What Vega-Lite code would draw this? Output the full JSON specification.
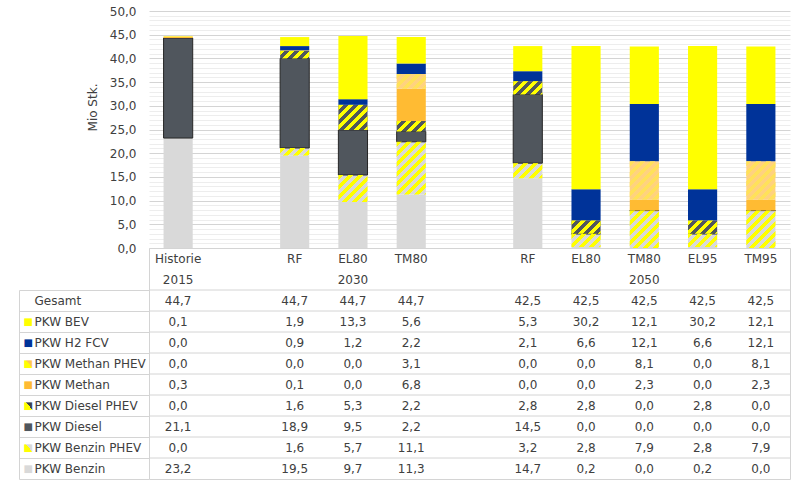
{
  "$schema": "https://vega.github.io/schema/vega-lite/v6.json",
  "padding": {"left": 18, "top": 5, "right": 10, "bottom": 5},
  "bounds": "flush",
  "spacing": 0,
  "config": {
    "locale": {"number": {"decimal": ",", "thousands": ".", "grouping": [3], "currency": ["", " €"]}},
    "font": "DejaVu Sans",
    "view": {"stroke": null},
    "axis": {"labelFont": "DejaVu Sans", "labelFontSize": 12, "labelColor": "#404040", "titleFont": "DejaVu Sans", "titleFontSize": 12, "titleFontWeight": "normal", "titleColor": "#404040"},
    "text": {"font": "DejaVu Sans", "fontSize": 12, "color": "#404040"}
  },
  "datasets": {
    "vals": [
      {"cat": "H15", "serie": "PKW Benzin", "value": 23.2},
      {"cat": "RF30", "serie": "PKW Benzin", "value": 19.5},
      {"cat": "EL8030", "serie": "PKW Benzin", "value": 9.7},
      {"cat": "TM8030", "serie": "PKW Benzin", "value": 11.3},
      {"cat": "RF50", "serie": "PKW Benzin", "value": 14.7},
      {"cat": "EL8050", "serie": "PKW Benzin", "value": 0.2},
      {"cat": "TM8050", "serie": "PKW Benzin", "value": 0.0},
      {"cat": "EL9550", "serie": "PKW Benzin", "value": 0.2},
      {"cat": "TM9550", "serie": "PKW Benzin", "value": 0.0},
      {"cat": "H15", "serie": "PKW Benzin PHEV", "value": 0.0},
      {"cat": "RF30", "serie": "PKW Benzin PHEV", "value": 1.6},
      {"cat": "EL8030", "serie": "PKW Benzin PHEV", "value": 5.7},
      {"cat": "TM8030", "serie": "PKW Benzin PHEV", "value": 11.1},
      {"cat": "RF50", "serie": "PKW Benzin PHEV", "value": 3.2},
      {"cat": "EL8050", "serie": "PKW Benzin PHEV", "value": 2.8},
      {"cat": "TM8050", "serie": "PKW Benzin PHEV", "value": 7.9},
      {"cat": "EL9550", "serie": "PKW Benzin PHEV", "value": 2.8},
      {"cat": "TM9550", "serie": "PKW Benzin PHEV", "value": 7.9},
      {"cat": "H15", "serie": "PKW Diesel", "value": 21.1},
      {"cat": "RF30", "serie": "PKW Diesel", "value": 18.9},
      {"cat": "EL8030", "serie": "PKW Diesel", "value": 9.5},
      {"cat": "TM8030", "serie": "PKW Diesel", "value": 2.2},
      {"cat": "RF50", "serie": "PKW Diesel", "value": 14.5},
      {"cat": "EL8050", "serie": "PKW Diesel", "value": 0.0},
      {"cat": "TM8050", "serie": "PKW Diesel", "value": 0.0},
      {"cat": "EL9550", "serie": "PKW Diesel", "value": 0.0},
      {"cat": "TM9550", "serie": "PKW Diesel", "value": 0.0},
      {"cat": "H15", "serie": "PKW Diesel PHEV", "value": 0.0},
      {"cat": "RF30", "serie": "PKW Diesel PHEV", "value": 1.6},
      {"cat": "EL8030", "serie": "PKW Diesel PHEV", "value": 5.3},
      {"cat": "TM8030", "serie": "PKW Diesel PHEV", "value": 2.2},
      {"cat": "RF50", "serie": "PKW Diesel PHEV", "value": 2.8},
      {"cat": "EL8050", "serie": "PKW Diesel PHEV", "value": 2.8},
      {"cat": "TM8050", "serie": "PKW Diesel PHEV", "value": 0.0},
      {"cat": "EL9550", "serie": "PKW Diesel PHEV", "value": 2.8},
      {"cat": "TM9550", "serie": "PKW Diesel PHEV", "value": 0.0},
      {"cat": "H15", "serie": "PKW Methan", "value": 0.3},
      {"cat": "RF30", "serie": "PKW Methan", "value": 0.1},
      {"cat": "EL8030", "serie": "PKW Methan", "value": 0.0},
      {"cat": "TM8030", "serie": "PKW Methan", "value": 6.8},
      {"cat": "RF50", "serie": "PKW Methan", "value": 0.0},
      {"cat": "EL8050", "serie": "PKW Methan", "value": 0.0},
      {"cat": "TM8050", "serie": "PKW Methan", "value": 2.3},
      {"cat": "EL9550", "serie": "PKW Methan", "value": 0.0},
      {"cat": "TM9550", "serie": "PKW Methan", "value": 2.3},
      {"cat": "H15", "serie": "PKW Methan PHEV", "value": 0.0},
      {"cat": "RF30", "serie": "PKW Methan PHEV", "value": 0.0},
      {"cat": "EL8030", "serie": "PKW Methan PHEV", "value": 0.0},
      {"cat": "TM8030", "serie": "PKW Methan PHEV", "value": 3.1},
      {"cat": "RF50", "serie": "PKW Methan PHEV", "value": 0.0},
      {"cat": "EL8050", "serie": "PKW Methan PHEV", "value": 0.0},
      {"cat": "TM8050", "serie": "PKW Methan PHEV", "value": 8.1},
      {"cat": "EL9550", "serie": "PKW Methan PHEV", "value": 0.0},
      {"cat": "TM9550", "serie": "PKW Methan PHEV", "value": 8.1},
      {"cat": "H15", "serie": "PKW H2 FCV", "value": 0.0},
      {"cat": "RF30", "serie": "PKW H2 FCV", "value": 0.9},
      {"cat": "EL8030", "serie": "PKW H2 FCV", "value": 1.2},
      {"cat": "TM8030", "serie": "PKW H2 FCV", "value": 2.2},
      {"cat": "RF50", "serie": "PKW H2 FCV", "value": 2.1},
      {"cat": "EL8050", "serie": "PKW H2 FCV", "value": 6.6},
      {"cat": "TM8050", "serie": "PKW H2 FCV", "value": 12.1},
      {"cat": "EL9550", "serie": "PKW H2 FCV", "value": 6.6},
      {"cat": "TM9550", "serie": "PKW H2 FCV", "value": 12.1},
      {"cat": "H15", "serie": "PKW BEV", "value": 0.1},
      {"cat": "RF30", "serie": "PKW BEV", "value": 1.9},
      {"cat": "EL8030", "serie": "PKW BEV", "value": 13.3},
      {"cat": "TM8030", "serie": "PKW BEV", "value": 5.6},
      {"cat": "RF50", "serie": "PKW BEV", "value": 5.3},
      {"cat": "EL8050", "serie": "PKW BEV", "value": 30.2},
      {"cat": "TM8050", "serie": "PKW BEV", "value": 12.1},
      {"cat": "EL9550", "serie": "PKW BEV", "value": 30.2},
      {"cat": "TM9550", "serie": "PKW BEV", "value": 12.1},
      {"cat": "H15", "serie": "Gesamt", "value": 44.7},
      {"cat": "RF30", "serie": "Gesamt", "value": 44.7},
      {"cat": "EL8030", "serie": "Gesamt", "value": 44.7},
      {"cat": "TM8030", "serie": "Gesamt", "value": 44.7},
      {"cat": "RF50", "serie": "Gesamt", "value": 42.5},
      {"cat": "EL8050", "serie": "Gesamt", "value": 42.5},
      {"cat": "TM8050", "serie": "Gesamt", "value": 42.5},
      {"cat": "EL9550", "serie": "Gesamt", "value": 42.5},
      {"cat": "TM9550", "serie": "Gesamt", "value": 42.5}
    ],
    "hdr": [
      {"cat": "H15", "row": "h1", "label": "Historie"},
      {"cat": "H15", "row": "h2", "label": "2015"},
      {"cat": "RF30", "row": "h1", "label": "RF"},
      {"cat": "EL8030", "row": "h1", "label": "EL80"},
      {"cat": "EL8030", "row": "h2", "label": "2030"},
      {"cat": "TM8030", "row": "h1", "label": "TM80"},
      {"cat": "RF50", "row": "h1", "label": "RF"},
      {"cat": "EL8050", "row": "h1", "label": "EL80"},
      {"cat": "TM8050", "row": "h1", "label": "TM80"},
      {"cat": "TM8050", "row": "h2", "label": "2050"},
      {"cat": "EL9550", "row": "h1", "label": "EL95"},
      {"cat": "TM9550", "row": "h1", "label": "TM95"}
    ]
  },
  "vconcat": [
    {
      "width": 641,
      "height": 237,
      "data": {"name": "vals"},
      "transform": [
        {"filter": "datum.serie !== 'Gesamt'"},
        {"stack": "value", "groupby": ["cat"], "as": ["y0", "y1"]}
      ],
      "encoding": {
        "x": {"field": "cat", "type": "nominal", "scale": {"type": "band", "domain": ["H15", "g1", "RF30", "EL8030", "TM8030", "g2", "RF50", "EL8050", "TM8050", "EL9550", "TM9550"], "paddingInner": 0.5, "paddingOuter": 0.25}, "axis": null},
        "y": {
          "field": "y1", "type": "quantitative",
          "scale": {"domain": [0, 50], "nice": false, "zero": true},
          "axis": {
            "title": "Mio Stk.", "titlePadding": 10, "titleY": 96,
            "values": [0,1,2,3,4,5,6,7,8,9,10,11,12,13,14,15,16,17,18,19,20,21,22,23,24,25,26,27,28,29,30,31,32,33,34,35,36,37,38,39,40,41,42,43,44,45,46,47,48,49,50],
            "format": ".1f",
            "labelExpr": "datum.value % 5 === 0 ? datum.label : ''",
            "labelOverlap": false, "labelFlush": false, "labelBound": false,
            "domain": false, "ticks": false, "labelPadding": 13,
            "grid": true,
            "gridColor": {"condition": {"test": "datum.value % 5 === 0", "value": "#d4d4d4"}, "value": "#ededed"}
          }
        },
        "y2": {"field": "y0"}
      },
      "layer": [
        {
          "mark": {"type": "bar", "stroke": {"expr": "datum.serie === 'PKW Diesel' ? '#262626' : 'transparent'"}, "strokeWidth": 1},
          "encoding": {
            "color": {"field": "serie", "type": "nominal", "legend": null,
              "scale": {"domain": ["PKW Benzin", "PKW Benzin PHEV", "PKW Diesel", "PKW Diesel PHEV", "PKW Methan", "PKW Methan PHEV", "PKW H2 FCV", "PKW BEV"],
                        "range": ["#d9d9d9", "#d9d9d9", "#50565d", "#50565d", "#ffbb33", "#ffd27f", "#003399", "#ffff00"]}}
          }
        },
        {
          "transform": [{"filter": {"field": "serie", "oneOf": ["PKW Benzin PHEV", "PKW Diesel PHEV"]}}],
          "mark": {"type": "bar", "fill": {"expr": "{gradient:'linear',x1:0,y1:0,x2:2914/(849.1+pow((datum.y1-datum.y0)*4.74,2)),y2:474*(datum.y1-datum.y0)/(849.1+pow((datum.y1-datum.y0)*4.74,2)),stops:[{offset:0,color:'#ffff00'},{offset:0.05,color:'#ffff00'},{offset:0.05,color:'rgba(255,255,0,0)'},{offset:0.1,color:'rgba(255,255,0,0)'},{offset:0.1,color:'#ffff00'},{offset:0.15,color:'#ffff00'},{offset:0.15,color:'rgba(255,255,0,0)'},{offset:0.2,color:'rgba(255,255,0,0)'},{offset:0.2,color:'#ffff00'},{offset:0.25,color:'#ffff00'},{offset:0.25,color:'rgba(255,255,0,0)'},{offset:0.3,color:'rgba(255,255,0,0)'},{offset:0.3,color:'#ffff00'},{offset:0.35,color:'#ffff00'},{offset:0.35,color:'rgba(255,255,0,0)'},{offset:0.4,color:'rgba(255,255,0,0)'},{offset:0.4,color:'#ffff00'},{offset:0.45,color:'#ffff00'},{offset:0.45,color:'rgba(255,255,0,0)'},{offset:0.5,color:'rgba(255,255,0,0)'},{offset:0.5,color:'#ffff00'},{offset:0.55,color:'#ffff00'},{offset:0.55,color:'rgba(255,255,0,0)'},{offset:0.6,color:'rgba(255,255,0,0)'},{offset:0.6,color:'#ffff00'},{offset:0.65,color:'#ffff00'},{offset:0.65,color:'rgba(255,255,0,0)'},{offset:0.7,color:'rgba(255,255,0,0)'},{offset:0.7,color:'#ffff00'},{offset:0.75,color:'#ffff00'},{offset:0.75,color:'rgba(255,255,0,0)'},{offset:0.8,color:'rgba(255,255,0,0)'},{offset:0.8,color:'#ffff00'},{offset:0.85,color:'#ffff00'},{offset:0.85,color:'rgba(255,255,0,0)'},{offset:0.9,color:'rgba(255,255,0,0)'},{offset:0.9,color:'#ffff00'},{offset:0.95,color:'#ffff00'},{offset:0.95,color:'rgba(255,255,0,0)'},{offset:1,color:'rgba(255,255,0,0)'}]}"}}
        },
        {
          "transform": [{"filter": {"field": "serie", "equal": "PKW Methan PHEV"}}],
          "mark": {"type": "bar", "fill": {"expr": "{gradient:'linear',x1:0,y1:0,x2:2914/(849.1+pow((datum.y1-datum.y0)*4.74,2)),y2:474*(datum.y1-datum.y0)/(849.1+pow((datum.y1-datum.y0)*4.74,2)),stops:[{offset:0,color:'#ffe15a'},{offset:0.05,color:'#ffe15a'},{offset:0.05,color:'rgba(255,225,90,0)'},{offset:0.1,color:'rgba(255,225,90,0)'},{offset:0.1,color:'#ffe15a'},{offset:0.15,color:'#ffe15a'},{offset:0.15,color:'rgba(255,225,90,0)'},{offset:0.2,color:'rgba(255,225,90,0)'},{offset:0.2,color:'#ffe15a'},{offset:0.25,color:'#ffe15a'},{offset:0.25,color:'rgba(255,225,90,0)'},{offset:0.3,color:'rgba(255,225,90,0)'},{offset:0.3,color:'#ffe15a'},{offset:0.35,color:'#ffe15a'},{offset:0.35,color:'rgba(255,225,90,0)'},{offset:0.4,color:'rgba(255,225,90,0)'},{offset:0.4,color:'#ffe15a'},{offset:0.45,color:'#ffe15a'},{offset:0.45,color:'rgba(255,225,90,0)'},{offset:0.5,color:'rgba(255,225,90,0)'},{offset:0.5,color:'#ffe15a'},{offset:0.55,color:'#ffe15a'},{offset:0.55,color:'rgba(255,225,90,0)'},{offset:0.6,color:'rgba(255,225,90,0)'},{offset:0.6,color:'#ffe15a'},{offset:0.65,color:'#ffe15a'},{offset:0.65,color:'rgba(255,225,90,0)'},{offset:0.7,color:'rgba(255,225,90,0)'},{offset:0.7,color:'#ffe15a'},{offset:0.75,color:'#ffe15a'},{offset:0.75,color:'rgba(255,225,90,0)'},{offset:0.8,color:'rgba(255,225,90,0)'},{offset:0.8,color:'#ffe15a'},{offset:0.85,color:'#ffe15a'},{offset:0.85,color:'rgba(255,225,90,0)'},{offset:0.9,color:'rgba(255,225,90,0)'},{offset:0.9,color:'#ffe15a'},{offset:0.95,color:'#ffe15a'},{offset:0.95,color:'rgba(255,225,90,0)'},{offset:1,color:'rgba(255,225,90,0)'}]}"}}
        }
      ]
    },
    {
      "width": 641,
      "height": 231,
      "view": {"stroke": "#d4d4d4"},
      "layer": [
        {
          "data": {"name": "vals"},
          "transform": [{"filter": {"field": "cat", "equal": "H15"}}],
          "mark": {"type": "rule", "color": "#d4d4d4", "strokeWidth": 1},
          "encoding": {
            "y": {"field": "serie", "type": "nominal", "bandPosition": 0,
              "scale": {"type": "band", "domain": ["h1", "h2", "Gesamt", "PKW BEV", "PKW H2 FCV", "PKW Methan PHEV", "PKW Methan", "PKW Diesel PHEV", "PKW Diesel", "PKW Benzin PHEV", "PKW Benzin"], "paddingInner": 0, "paddingOuter": 0},
              "axis": {
                "orient": "left", "title": null, "domain": false, "labels": false, "grid": false,
                "values": ["PKW Benzin"], "bandPosition": 1,
                "ticks": true, "tickSize": 130, "tickColor": "#d4d4d4"
              }
            }
          }
        },
        {
          "data": {"name": "vals"},
          "mark": {"type": "text"},
          "encoding": {
            "x": {"field": "cat", "type": "nominal", "scale": {"type": "band", "domain": ["H15", "g1", "RF30", "EL8030", "TM8030", "g2", "RF50", "EL8050", "TM8050", "EL9550", "TM9550"], "paddingInner": 0.5, "paddingOuter": 0.25}, "axis": null},
            "y": {"field": "serie", "type": "nominal",
              "scale": {"type": "band", "domain": ["h1", "h2", "Gesamt", "PKW BEV", "PKW H2 FCV", "PKW Methan PHEV", "PKW Methan", "PKW Diesel PHEV", "PKW Diesel", "PKW Benzin PHEV", "PKW Benzin"], "paddingInner": 0, "paddingOuter": 0},
              "axis": {
                "orient": "left", "title": null, "domain": false, "grid": false,
                "values": ["Gesamt", "PKW BEV", "PKW H2 FCV", "PKW Methan PHEV", "PKW Methan", "PKW Diesel PHEV", "PKW Diesel", "PKW Benzin PHEV", "PKW Benzin"],
                "bandPosition": 0, "ticks": true, "tickSize": 130, "tickColor": "#d4d4d4",
                "labelAlign": "left", "labelPadding": -15, "labelOverlap": false, "labelBound": false, "labelLimit": 200
              }
            },
            "text": {"field": "value", "type": "quantitative", "format": ".1f"}
          }
        },
        {
          "data": {"name": "hdr"},
          "mark": {"type": "text"},
          "encoding": {
            "x": {"field": "cat", "type": "nominal", "scale": {"type": "band", "domain": ["H15", "g1", "RF30", "EL8030", "TM8030", "g2", "RF50", "EL8050", "TM8050", "EL9550", "TM9550"], "paddingInner": 0.5, "paddingOuter": 0.25}, "axis": null},
            "y": {"field": "row", "type": "nominal",
              "scale": {"type": "band", "domain": ["h1", "h2", "Gesamt", "PKW BEV", "PKW H2 FCV", "PKW Methan PHEV", "PKW Methan", "PKW Diesel PHEV", "PKW Diesel", "PKW Benzin PHEV", "PKW Benzin"], "paddingInner": 0, "paddingOuter": 0},
              "axis": {
                "orient": "left", "offset": 130, "title": null,
                "domain": true, "domainColor": "#d4d4d4", "domainDash": [0, 42, 200],
                "ticks": false, "tickSize": 0, "grid": false,
                "values": ["PKW BEV", "PKW H2 FCV", "PKW Methan PHEV", "PKW Methan", "PKW Diesel PHEV", "PKW Diesel", "PKW Benzin PHEV", "PKW Benzin"],
                "labelAlign": "left", "labelPadding": -4, "labelOverlap": false, "labelBound": false, "labelFontSize": 10,
                "labelExpr": "'■'",
                "labelColor": {"condition": [
                  {"test": "datum.value === 'PKW BEV'", "value": "#ffff00"},
                  {"test": "datum.value === 'PKW H2 FCV'", "value": "#003399"},
                  {"test": "datum.value === 'PKW Methan PHEV'", "value": {"gradient": "linear", "x1": 0, "y1": 1, "x2": 1, "y2": 0, "stops": [{"offset": 0, "color": "#ffff00"}, {"offset": 0.5, "color": "#ffff00"}, {"offset": 0.5, "color": "#ffc84d"}, {"offset": 1, "color": "#ffc84d"}]}},
                  {"test": "datum.value === 'PKW Methan'", "value": "#ffbb33"},
                  {"test": "datum.value === 'PKW Diesel PHEV'", "value": {"gradient": "linear", "x1": 0, "y1": 1, "x2": 1, "y2": 0, "stops": [{"offset": 0, "color": "#ffff00"}, {"offset": 0.5, "color": "#ffff00"}, {"offset": 0.5, "color": "#40454b"}, {"offset": 1, "color": "#40454b"}]}},
                  {"test": "datum.value === 'PKW Diesel'", "value": "#50565d"},
                  {"test": "datum.value === 'PKW Benzin PHEV'", "value": {"gradient": "linear", "x1": 0, "y1": 1, "x2": 1, "y2": 0, "stops": [{"offset": 0, "color": "#ffff00"}, {"offset": 0.5, "color": "#ffff00"}, {"offset": 0.5, "color": "#d9d9d9"}, {"offset": 1, "color": "#d9d9d9"}]}}
                ], "value": "#d9d9d9"}
              }
            },
            "text": {"field": "label", "type": "nominal"}
          }
        }
      ],
      "resolve": {"axis": {"y": "independent"}}
    }
  ]
}
